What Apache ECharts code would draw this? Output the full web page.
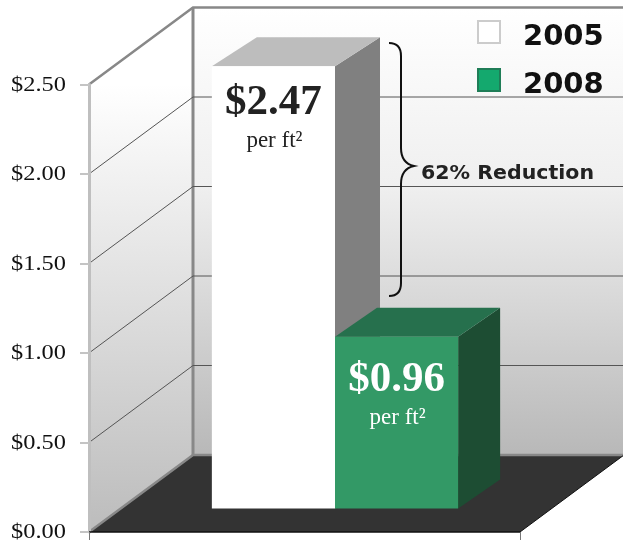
<!DOCTYPE html>
<html>
<head>
<meta charset="utf-8">
<style>
  html, body { margin: 0; padding: 0; background: #fff; }
  #chart { width: 623px; height: 544px; }
</style>
</head>
<body>
<div id="chart"></div>
<script src="https://cdn.jsdelivr.net/npm/echarts@6/dist/echarts.min.js"></script>
<script>
// data
const axisCategories = [''];
const years = ['2005', '2008'];
const costs = [2.47, 0.96];
const costLabels = ['$2.47', '$0.96'];
const unitLabel = 'per ft²';
const yTicks = [0, 0.5, 1, 1.5, 2, 2.5];
const yTickLabels = ['$0.00', '$0.50', '$1.00', '$1.50', '$2.00', '$2.50'];
const reductionLabel = '62% Reduction';

// fake 3d box of the chart: how far the back wall sits from the front plane
const wallDx = 104;
const wallDy = 77;
// bars stand in the middle of the floor
const barShiftDx = 30.5;
const barShiftDy = 23.5;
const barDepth = [[45, 29], [42, 29]];
const barColors = [
    { front: '#ffffff', top: '#bdbdbd', side: '#808080', text: '#222222' },
    { front: '#339966', top: '#26704d', side: '#1d4d33', text: '#ffffff' },
];
const labelOffset = [[37, 75], [43, 81]];
// square in the upper part of a taller icon box, so the legend text sits a bit below it
const legendIcon = 'path://M0 0H22V22H0ZM0 32L0 32';

const serif = '"Liberation Serif", "Times New Roman", serif';
const sans = '"DejaVu Sans", Verdana, sans-serif';

function poly(points, fill) {
    return { type: 'polygon', shape: { points }, style: { fill, stroke: null } };
}
function line(points, stroke, lineWidth) {
    return { type: 'polyline', shape: { points }, style: { fill: null, stroke, lineWidth } };
}

function renderWall(params, api) {
    const v = api.value(1);
    const width = api.size([1, 0])[0];
    const x0 = api.coord([0, v])[0] - width / 2;
    const y = api.coord([0, v])[1];
    const yTop = api.coord([0, yTicks[yTicks.length - 1]])[1];
    const yZero = api.coord([0, 0])[1];
    const x1 = x0 + width;
    const children = [];

    if (params.dataIndex === 0) {
        const wallFill = {
            type: 'linear', x: 0, y: yTop - wallDy, x2: 0, y2: yZero - wallDy, global: true,
            colorStops: [
                { offset: 0, color: '#ffffff' },
                { offset: 0.4, color: '#efefef' },
                { offset: 0.6, color: '#dddddd' },
                { offset: 1, color: '#b8b8b8' },
            ],
        };
        const sideFill = {
            type: 'linear', x: 0, y: yTop, x2: 0, y2: yZero, global: true,
            colorStops: [{ offset: 0, color: '#ffffff' }, { offset: 1, color: '#bcbcbc' }],
        };
        children.push(poly([[x0 + wallDx, yTop - wallDy], [x1 + wallDx, yTop - wallDy], [x1 + wallDx, yZero - wallDy], [x0 + wallDx, yZero - wallDy]], wallFill));
        children.push(poly([[x0, yTop], [x0 + wallDx, yTop - wallDy], [x0 + wallDx, yZero - wallDy], [x0, yZero]], sideFill));
        children.push(poly([[x0, yZero], [x0 + wallDx, yZero - wallDy], [x1 + wallDx, yZero - wallDy], [x1, yZero]], '#333333'));
        children.push(line([[x0, yZero], [x0 + wallDx, yZero - wallDy], [x1 + wallDx, yZero - wallDy]], '#888888', 2.5));
        children.push(line([[x1, yZero], [x1 + wallDx, yZero - wallDy]], '#111111', 1));
        children.push(line([[x0 + wallDx, yTop - wallDy], [x0 + wallDx, yZero - wallDy]], '#888888', 3));
    } else if (params.dataIndex === yTicks.length - 1) {
        children.push(line([[x0, y], [x0 + wallDx, y - wallDy], [x1 + wallDx, y - wallDy]], '#888888', 2.5));
    } else {
        children.push(line([[x0, y], [x0 + wallDx, y - wallDy], [x1 + wallDx, y - wallDy]], '#555555', 1));
    }

    // the tick labels in the source are stretched wider than Times
    children.push({
        type: 'text',
        x: x0 - 23,
        y: y + 1,
        scaleX: 1.22,
        style: {
            text: yTickLabels[params.dataIndex],
            align: 'right',
            verticalAlign: 'middle',
            fill: '#111111',
            font: '20px ' + serif,
        },
    });
    return { type: 'group', children };
}

function makeBarRenderer(i) {
    return function (params, api) {
        const width = api.size([1, 0])[0];
        const x0 = api.coord([0, 0])[0] - width / 2;
        const barW = width / 3.5;
        const left = x0 + barShiftDx + barW * (0.75 + i);
        const right = left + barW;
        const bottom = api.coord([0, 0])[1] - barShiftDy;
        const top = api.coord([0, api.value(1)])[1] - barShiftDy;
        const dx = barDepth[i][0];
        const dy = barDepth[i][1];
        const c = barColors[i];
        const mid = (left + right) / 2;
        return {
            type: 'group',
            children: [
                poly([[right, top], [right + dx, top - dy], [right + dx, bottom - dy], [right, bottom]], c.side),
                poly([[left, top], [left + dx, top - dy], [right + dx, top - dy], [right, top]], c.top),
                poly([[left, top], [right, top], [right, bottom], [left, bottom]], c.front),
                {
                    type: 'text',
                    style: {
                        x: mid, y: top + labelOffset[i][0],
                        text: costLabels[i], align: 'center', verticalAlign: 'middle',
                        fill: c.text, font: 'bold 43px ' + serif,
                    },
                },
                {
                    type: 'text',
                    style: {
                        x: mid + 1, y: top + labelOffset[i][1],
                        text: unitLabel, align: 'center', verticalAlign: 'middle',
                        fill: c.text, font: '23px ' + serif,
                    },
                },
            ],
        };
    };
}

// brace between the two bars
function renderBrace() {
    return {
        type: 'path',
        shape: {
            pathData: 'M389 43 C397 43 401 47 401 56 L401 148 C401 158 405 164 414 166 C405 168 401 174 401 184 L401 283 C401 292 397 296 389 296',
            layout: 'cover',
            x: 389, y: 43, width: 25, height: 253,
        },
        style: { fill: null, stroke: '#111111', lineWidth: 2 },
    };
}

const chart = echarts.init(document.getElementById('chart'));

const option = {
    backgroundColor: '#ffffff',
    animation: false,
    grid: { left: 89, top: 84.5, width: 431, height: 447.5 },
    legend: {
        orient: 'vertical',
        left: 472,
        top: 15,
        itemWidth: 22,
        itemHeight: 32,
        itemGap: 14,
        selectedMode: false,
        textStyle: { fontFamily: sans, fontWeight: 'bold', fontSize: 29, color: '#111111', padding: [0, 0, 0, 18] },
        data: [
            { name: years[0], icon: legendIcon, itemStyle: { color: '#ffffff', borderColor: '#cccccc', borderWidth: 2 } },
            { name: years[1], icon: legendIcon, itemStyle: { color: '#14a96e', borderColor: '#1f7d57', borderWidth: 2 } },
        ],
    },
    xAxis: {
        type: 'category',
        z: 5,
        data: axisCategories,
        axisLine: { lineStyle: { color: '#111111', width: 1.5 } },
        axisTick: { show: true, length: 8, lineStyle: { color: '#777777' } },
        axisLabel: { show: false },
    },
    yAxis: {
        type: 'value',
        z: 5,
        min: 0,
        max: 2.5,
        interval: 0.5,
        axisLine: { show: true, lineStyle: { color: '#bfbfbf', width: 3 } },
        axisTick: { show: true, length: 9, lineStyle: { color: '#c4c4c4', width: 2 } },
        axisLabel: { show: false },
        splitLine: { show: false },
    },
    series: [
        {
            name: 'wall',
            type: 'custom',
            silent: true,
            z: 1,
            renderItem: renderWall,
            encode: { x: 0, y: 1 },
            data: yTicks.map((v) => [0, v]),
        },
        ...years.map((year, i) => ({
            name: year,
            type: 'custom',
            silent: true,
            z: 3,
            renderItem: makeBarRenderer(i),
            encode: { x: 0, y: 1 },
            data: [[0, costs[i]]],
        })),
        {
            name: 'brace',
            type: 'custom',
            silent: true,
            z: 4,
            renderItem: renderBrace,
            encode: { x: 0, y: 1 },
            data: [[0, 0]],
        },
    ],
    graphic: [
        {
            type: 'text',
            z: 100,
            x: 421,
            y: 174,
            scaleX: 1.08,
            style: {
                text: reductionLabel,
                verticalAlign: 'middle',
                fill: '#222222',
                font: 'bold 19px ' + sans,
            },
        },
    ],
};

chart.setOption(option);
</script>
</body>
</html>
